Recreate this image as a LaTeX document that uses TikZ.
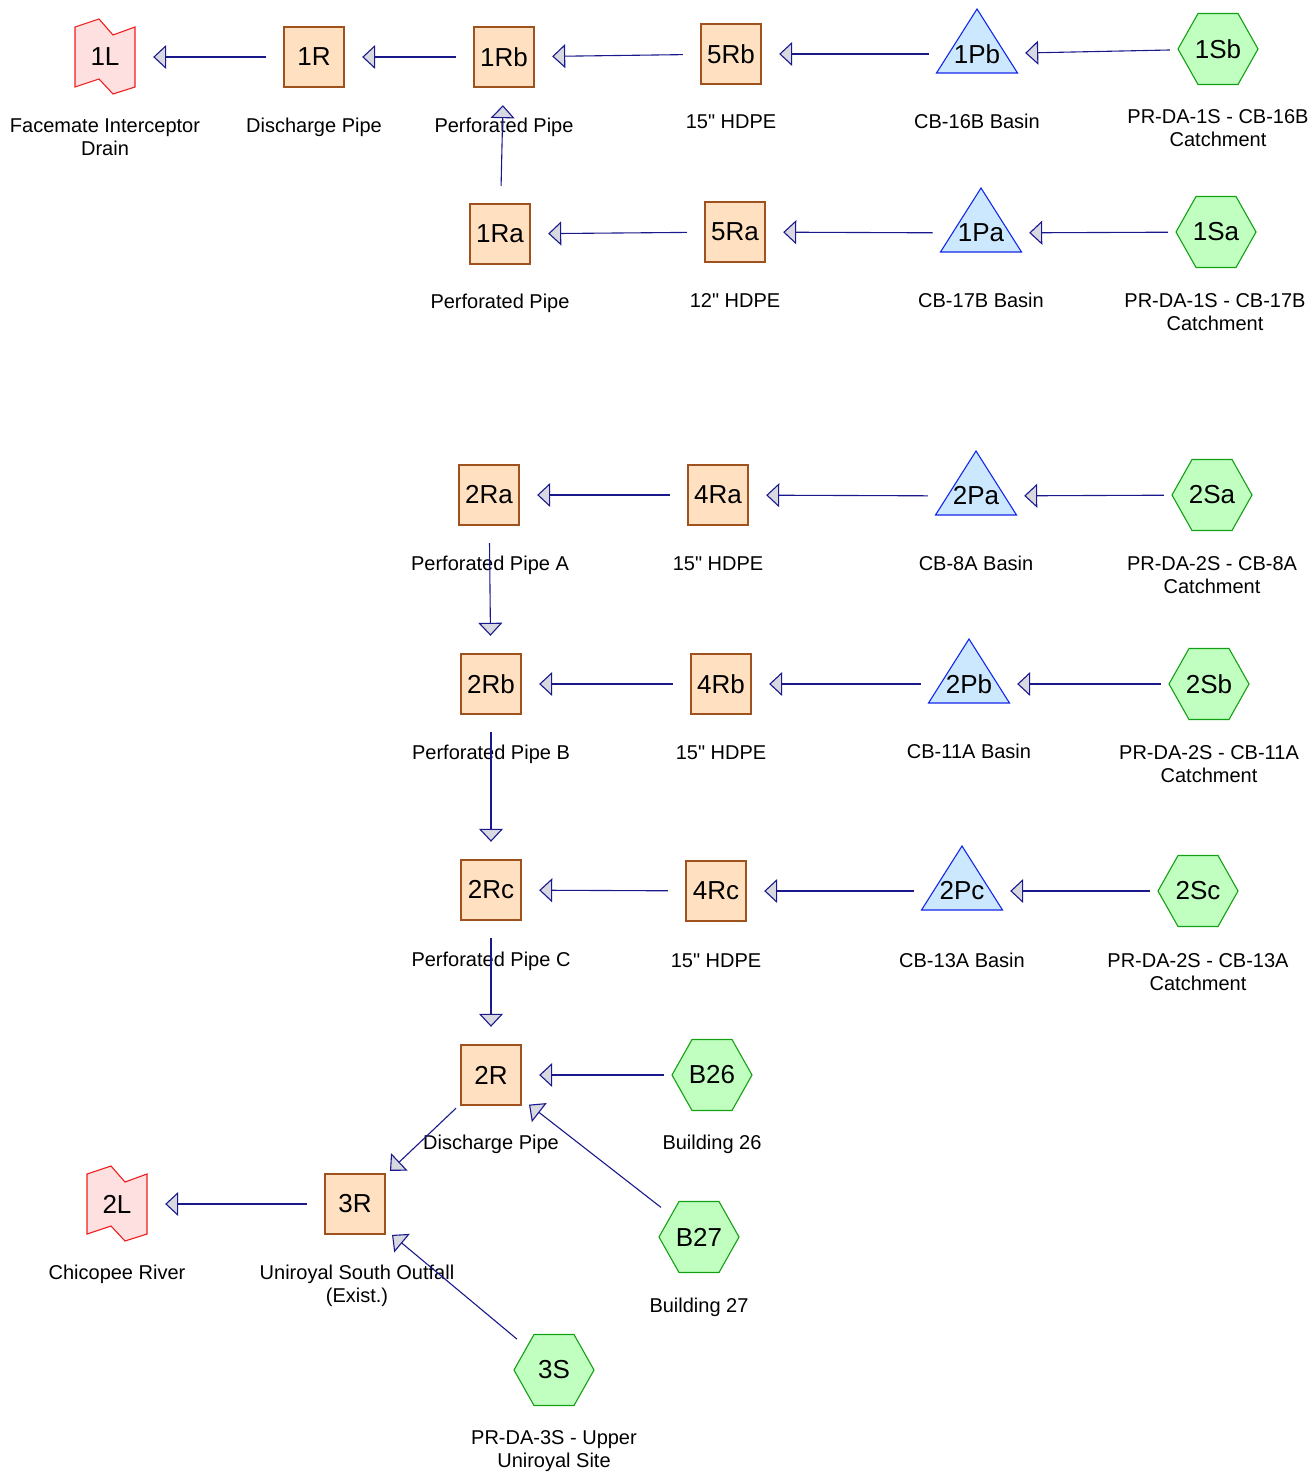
\documentclass[tikz,border=0pt]{standalone}
\usepackage{fontspec}
\setmainfont{Liberation Sans}
\newfontfamily\arialfam{Liberation Sans}
\usetikzlibrary{arrows.meta,calc}
\definecolor{boxfill}{RGB}{255,224,192}
\definecolor{boxline}{RGB}{160,82,30}
\definecolor{trifill}{RGB}{204,232,255}
\definecolor{triline}{RGB}{20,40,235}
\definecolor{hexfill}{RGB}{192,255,192}
\definecolor{hexline}{RGB}{20,160,20}
\definecolor{flagfill}{RGB}{255,224,224}
\definecolor{flagline}{RGB}{240,30,30}
\definecolor{linecol}{RGB}{25,25,140}
\definecolor{headfill}{RGB}{216,216,224}
\tikzset{
  hub/.style={circle,minimum size=96pt,inner sep=0pt,font=\arialfam\fontsize{26}{30}\selectfont},
  lab/.style={font=\arialfam\fontsize{20}{23}\selectfont,align=center,anchor=north,inner sep=0pt},
  flow/.style={draw=linecol,line width=1.1pt,-{Triangle[length=13pt,width=24pt,fill=headfill]}},
  boxsh/.style={draw=boxline,fill=boxfill,line width=1.2pt},
  trish/.style={draw=triline,fill=trifill,line width=1.1pt,line join=miter},
  hexsh/.style={draw=hexline,fill=hexfill,line width=1.1pt},
  flagsh/.style={draw=flagline,fill=flagfill,line width=1.1pt},
}
\newcommand\boxnode[4]{\filldraw[boxsh] (#2-30,#3-30) rectangle (#2+30,#3+30); \node[hub] (#1) at (#2,#3) {#4};}
\newcommand\trinode[4]{\filldraw[trish] (#2,#3-45) -- (#2+40.5,#3+19) -- (#2-40.5,#3+19) -- cycle; \node[hub] (#1) at (#2,#3) {#4};}
\newcommand\hexnode[4]{\filldraw[hexsh] (#2-40,#3) -- (#2-20,#3-35.5) -- (#2+20,#3-35.5) -- (#2+40,#3) -- (#2+20,#3+35.5) -- (#2-20,#3+35.5) -- cycle; \node[hub] (#1) at (#2,#3) {#4};}
\newcommand\flagnode[4]{\filldraw[flagsh] (#2-30,#3-30) -- (#2-6,#3-38) -- (#2+8,#3-22) -- (#2+30,#3-30) -- (#2+30,#3+30) -- (#2+8,#3+37) -- (#2-6,#3+22) -- (#2-30,#3+30) -- cycle; \node[hub] (#1) at (#2,#3) {#4};}
\begin{document}
\begin{tikzpicture}[x=1pt,y=-1pt]
\fill[white] (0,0) rectangle (1315,1479);
\useasboundingbox (0,0) rectangle (1315,1479);
% row 1
\flagnode{n1L}{105}{57}{1L}
\boxnode{n1R}{314}{57}{1R}
\boxnode{n1Rb}{504}{57}{1Rb}
\boxnode{n5Rb}{731}{54}{5Rb}
\trinode{n1Pb}{977}{54}{1Pb}
\hexnode{n1Sb}{1218}{49}{1Sb}
\node[lab] (l1L) at (105,116) {\strut Facemate Interceptor\\Drain};
\node[lab] (l1R) at (314,116) {\strut Discharge Pipe};
\node[lab] (l1Rb) at (504,116) {\strut Perforated Pipe};
\node[lab] (l5Rb) at (731,112) {\strut 15" HDPE};
\node[lab] (l1Pb) at (977,112) {\strut CB-16B Basin};
\node[lab] (l1Sb) at (1218,107) {\strut PR-DA-1S - CB-16B\\Catchment};
% row 2
\boxnode{n1Ra}{500}{234}{1Ra}
\boxnode{n5Ra}{735}{232}{5Ra}
\trinode{n1Pa}{981}{233}{1Pa}
\hexnode{n1Sa}{1216}{232}{1Sa}
\node[lab] (l1Ra) at (500,292) {\strut Perforated Pipe};
\node[lab] (l5Ra) at (735,291) {\strut 12" HDPE};
\node[lab] (l1Pa) at (981,291) {\strut CB-17B Basin};
\node[lab] (l1Sa) at (1215,291) {\strut PR-DA-1S - CB-17B\\Catchment};
% row 3
\boxnode{n2Ra}{489}{495}{2Ra}
\boxnode{n4Ra}{718}{495}{4Ra}
\trinode{n2Pa}{976}{496}{2Pa}
\hexnode{n2Sa}{1212}{495}{2Sa}
\node[lab] (l2Ra) at (490,554) {\strut Perforated Pipe A};
\node[lab] (l4Ra) at (718,554) {\strut 15" HDPE};
\node[lab] (l2Pa) at (976,554) {\strut CB-8A Basin};
\node[lab] (l2Sa) at (1212,554) {\strut PR-DA-2S - CB-8A\\Catchment};
% row 4
\boxnode{n2Rb}{491}{684}{2Rb}
\boxnode{n4Rb}{721}{684}{4Rb}
\trinode{n2Pb}{969}{684}{2Pb}
\hexnode{n2Sb}{1209}{684}{2Sb}
\node[lab] (l2Rb) at (491,743) {\strut Perforated Pipe B};
\node[lab] (l4Rb) at (721,743) {\strut 15" HDPE};
\node[lab] (l2Pb) at (969,742) {\strut CB-11A Basin};
\node[lab] (l2Sb) at (1209,743) {\strut PR-DA-2S - CB-11A\\Catchment};
% row 5
\boxnode{n2Rc}{491}{890}{2Rc}
\boxnode{n4Rc}{716}{891}{4Rc}
\trinode{n2Pc}{962}{891}{2Pc}
\hexnode{n2Sc}{1198}{891}{2Sc}
\node[lab] (l2Rc) at (491,950) {\strut Perforated Pipe C};
\node[lab] (l4Rc) at (716,951) {\strut 15" HDPE};
\node[lab] (l2Pc) at (962,951) {\strut CB-13A Basin};
\node[lab] (l2Sc) at (1198,951) {\strut PR-DA-2S - CB-13A\\Catchment};
% bottom
\boxnode{n2R}{491}{1075}{2R}
\hexnode{nB26}{712}{1075}{B26}
\hexnode{nB27}{699}{1237}{B27}
\flagnode{n2L}{117}{1204}{2L}
\boxnode{n3R}{355}{1204}{3R}
\hexnode{n3S}{554}{1370}{3S}
\node[lab] (l2R) at (491,1133) {\strut Discharge Pipe};
\node[lab] (lB26) at (712,1133) {\strut Building 26};
\node[lab] (lB27) at (699,1296) {\strut Building 27};
\node[lab] (l2L) at (117,1263) {\strut Chicopee River};
\node[lab] (l3R) at (357,1263) {\strut Uniroyal South Outfall\\(Exist.)};
\node[lab] (l3S) at (554,1428) {\strut PR-DA-3S - Upper\\Uniroyal Site};
% connectors
\draw[flow] (n1Sb) -- (n1Pb);
\draw[flow] (n1Pb) -- (n5Rb);
\draw[flow] (n5Rb) -- (n1Rb);
\draw[flow] (n1Rb) -- (n1R);
\draw[flow] (n1R) -- (n1L);
\draw[flow] (n1Sa) -- (n1Pa);
\draw[flow] (n1Pa) -- (n5Ra);
\draw[flow] (n5Ra) -- (n1Ra);
\draw[flow] (n1Ra) -- (n1Rb);
\draw[flow] (n2Sa) -- (n2Pa);
\draw[flow] (n2Pa) -- (n4Ra);
\draw[flow] (n4Ra) -- (n2Ra);
\draw[flow] (n2Ra) -- (n2Rb);
\draw[flow] (n2Sb) -- (n2Pb);
\draw[flow] (n2Pb) -- (n4Rb);
\draw[flow] (n4Rb) -- (n2Rb);
\draw[flow] (n2Rb) -- (n2Rc);
\draw[flow] (n2Sc) -- (n2Pc);
\draw[flow] (n2Pc) -- (n4Rc);
\draw[flow] (n4Rc) -- (n2Rc);
\draw[flow] (n2Rc) -- (n2R);
\draw[flow] (nB26) -- (n2R);
\draw[flow] (nB27) -- (n2R);
\draw[flow] (n2R) -- (n3R);
\draw[flow] (n3S) -- (n3R);
\draw[flow] (n3R) -- (n2L);
\end{tikzpicture}
\end{document}
